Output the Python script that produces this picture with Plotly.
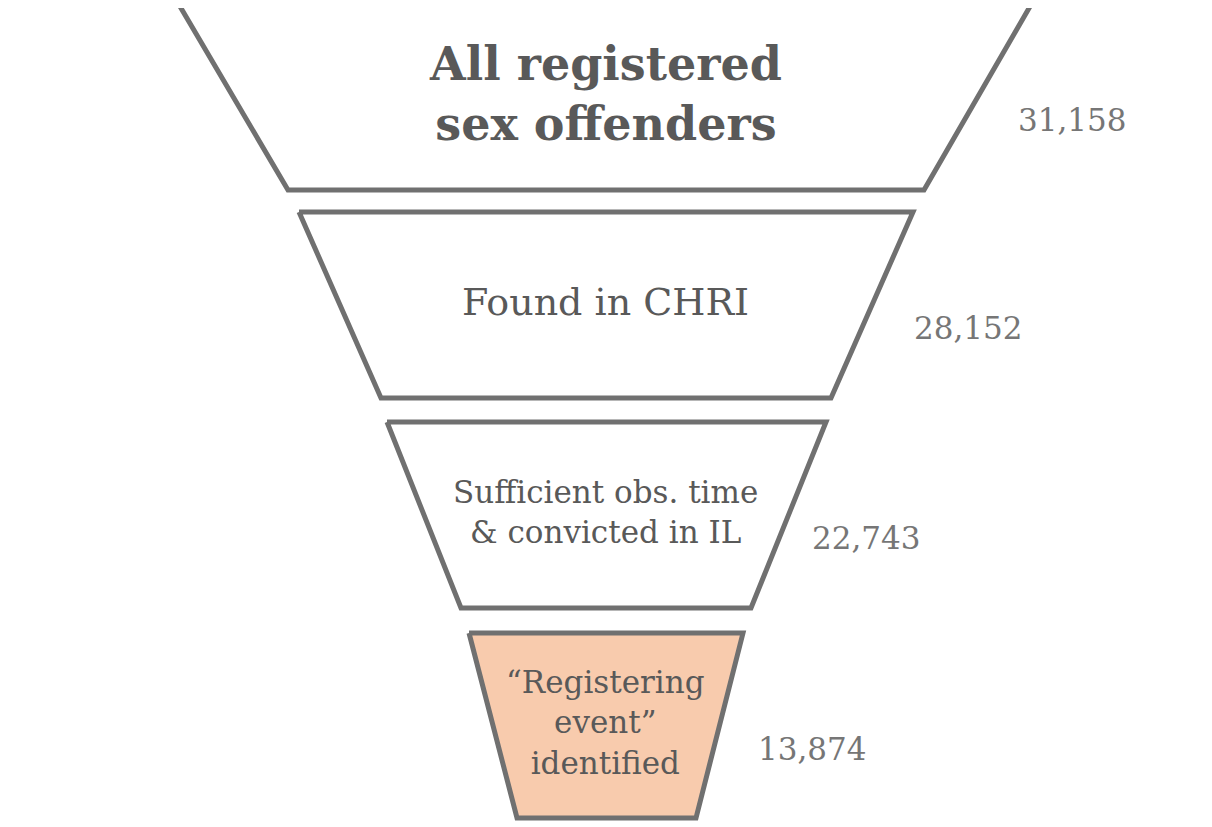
import plotly.graph_objects as go

stages = ["All registered<br>sex offenders", "Found in CHRI",
          "Sufficient obs. time<br>& convicted in IL",
          "“Registering<br>event”<br>identified"]
counts = [31158, 28152, 22743, 13874]
fills = ["white", "white", "white", "#F8CBAD"]
# trapezoid geometry (top-left, top-right, bottom-left, bottom-right, top y, bottom y)
tops = [(178, 1032), (299, 913), (387, 826), (469, 743)]
bots = [(288, 924), (381, 831), (461, 751), (517, 696)]
ys = [(3, 190), (212, 398), (422, 608), (633, 818)]
fonts = [dict(size=46, family="DejaVu Serif", color="#595959", weight="bold"),
         dict(size=38, family="DejaVu Serif", color="#595959"),
         dict(size=31, family="DejaVu Serif", color="#595959"),
         dict(size=31, family="DejaVu Serif", color="#595959")]
num_x = [1072, 968, 866, 812]

fig = go.Figure()
ann = []
for i in range(4):
    (tl, tr), (bl, br), (yt, yb) = tops[i], bots[i], ys[i]
    fig.add_trace(go.Scatter(x=[tl, tr, br, bl, tl], y=[yt, yt, yb, yb, yt],
                             mode="lines", fill="toself", fillcolor=fills[i],
                             line=dict(color="#707070", width=5), hoverinfo="skip",
                             showlegend=False))
    ym = (yt + yb) / 2
    ann.append(dict(x=605, y=ym - 3, text=stages[i], showarrow=False, font=fonts[i]))
    ann.append(dict(x=num_x[i], y=ym + 23, text=f"{counts[i]:,}", showarrow=False,
                    font=dict(size=31, family="DejaVu Serif", color="#767676")))
fig.update_layout(width=1212, height=827, margin=dict(l=0, r=0, t=0, b=0),
                  plot_bgcolor="white", paper_bgcolor="white", annotations=ann,
                  xaxis=dict(range=[8, 1220], visible=False),
                  yaxis=dict(range=[835, 8], visible=False))
fig.write_html("out.html")
